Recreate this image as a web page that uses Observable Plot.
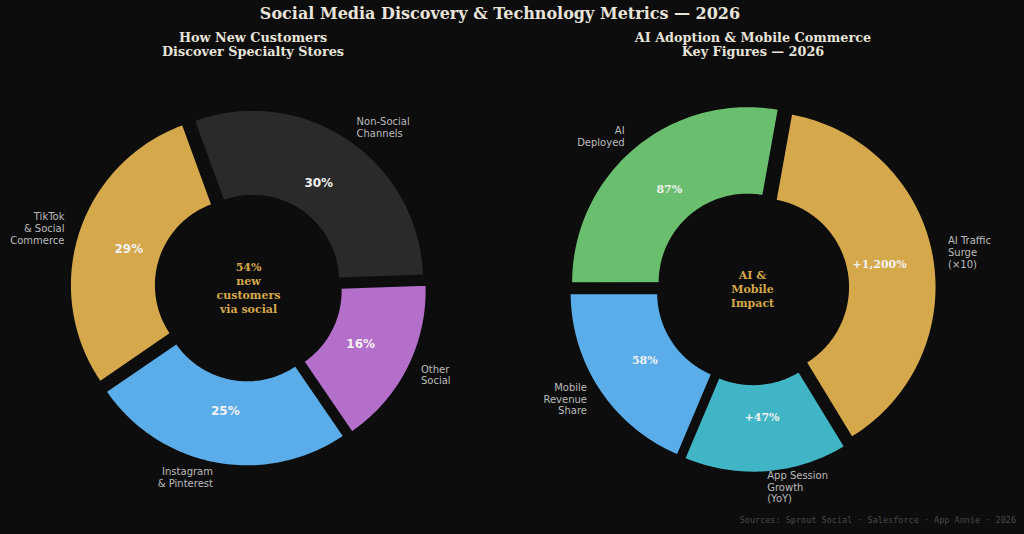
<!DOCTYPE html>
<html>
<head>
<meta charset="utf-8">
<script src="https://cdn.jsdelivr.net/npm/d3@7"></script>
<script src="https://cdn.jsdelivr.net/npm/@observablehq/plot@0.6"></script>
<style>
  html, body { margin: 0; padding: 0; background: #0d0d0d; }
  #wrap { position: relative; width: 1024px; height: 534px; overflow: hidden; background: #0d0d0d; }
  .panel { position: absolute; top: 0; width: 512px; height: 534px; }
  .title { position: absolute; top: 4px; left: 0; width: 1000px; text-align: center;
    font: bold 16px "DejaVu Serif", serif; color: #e8e4da; }
  .sub { position: absolute; top: 31px; width: 300px; text-align: center;
    font: bold 12.8px/14px "DejaVu Serif", serif; color: #e8e4da; }
  .src { position: absolute; right: 8px; top: 515px; font: 8.5px "DejaVu Sans Mono", monospace; color: #4a4a4a; }
</style>
</head>
<body>
<div id="wrap">
  <div class="panel" id="left" style="left:0"></div>
  <div class="panel" id="right" style="left:512px"></div>
  <div class="title">Social Media Discovery &amp; Technology Metrics — 2026</div>
  <div class="sub" style="left:103px">How New Customers<br>Discover Specialty Stores</div>
  <div class="sub" style="left:603px">AI Adoption &amp; Mobile Commerce<br>Key Figures — 2026</div>
  <div class="src">Sources: Sprout Social · Salesforce · App Annie · 2026</div>
</div>
<script>
// ---- data ----
const leftLabels = ["Non-Social\nChannels", "Other\nSocial", "Instagram\n& Pinterest", "TikTok\n& Social\nCommerce"];
const leftValues = [30, 16, 25, 29];
const leftPct = ["30%", "16%", "25%", "29%"];
const leftColors = ["#2a2a2a", "#b36fc9", "#5aade8", "#d4a84b"];
const leftCenter = "54%\nnew\ncustomers\nvia social";

const rightLabels = ["AI\nDeployed", "AI Traffic\nSurge\n(×10)", "App Session\nGrowth\n(YoY)", "Mobile\nRevenue\nShare"];
const rightValues = [87, 120, 47, 58];
const rightPct = ["87%", "+1,200%", "+47%", "58%"];
const rightColors = ["#6abf6f", "#d4a84b", "#3fb5c5", "#5aade8"];
const rightCenter = "AI &\nMobile\nImpact";

// ---- drawing ----
const INNER = 0.5;
const EXPLODE = 0.045;
const W = 512, H = 534;

function donut({labels, values, pct, colors, center, startDeg, cx, cy, R, pctFont}) {
  const pie = d3.pie().sort(null).startAngle(startDeg * Math.PI / 180).endAngle(startDeg * Math.PI / 180 + 2 * Math.PI);
  const arcs = pie(values);
  const rows = [];
  const texts = [];
  arcs.forEach((a, i) => {
    const mid = (a.startAngle + a.endAngle) / 2;
    const ox = EXPLODE * Math.sin(mid), oy = EXPLODE * Math.cos(mid);
    const n = Math.max(8, Math.ceil((a.endAngle - a.startAngle) / 0.02));
    for (let k = 0; k <= n; k++) {
      const t = a.startAngle + (a.endAngle - a.startAngle) * k / n;
      rows.push({key: labels[i], x: ox + Math.sin(t), y: oy + Math.cos(t)});
    }
    for (let k = n; k >= 0; k--) {
      const t = a.startAngle + (a.endAngle - a.startAngle) * k / n;
      rows.push({key: labels[i], x: ox + INNER * Math.sin(t), y: oy + INNER * Math.cos(t)});
    }
    const lx = ox + 1.085 * Math.sin(mid), ly = oy + 1.085 * Math.cos(mid);
    texts.push({label: labels[i], pct: pct[i],
      lx, ly, anchor: lx >= 0 ? "start" : "end",
      px: ox + 0.69 * Math.sin(mid), py: oy + 0.69 * Math.cos(mid)});
  });
  return Plot.plot({
    width: W, height: H,
    margin: 0,
    style: {background: "transparent", overflow: "visible"},
    x: {domain: [-cx / R, (W - cx) / R], axis: null},
    y: {domain: [-(H - cy) / R, cy / R], axis: null},
    color: {domain: labels, range: colors},
    marks: [
      Plot.line(rows, {x: "x", y: "y", z: "key", fill: "key", stroke: "#0d0d0d", strokeWidth: 1.5, curve: "linear-closed"}),
      Plot.text(texts.filter(d => d.anchor === "start"), {x: "lx", y: "ly", text: "label", textAnchor: "start", fill: "#bbbbbb", fontSize: 10, lineHeight: 1.18, fontFamily: "DejaVu Sans"}),
      Plot.text(texts.filter(d => d.anchor === "end"), {x: "lx", y: "ly", text: "label", textAnchor: "end", fill: "#bbbbbb", fontSize: 10, lineHeight: 1.18, fontFamily: "DejaVu Sans"}),
      Plot.text(texts, {x: "px", y: "py", text: "pct", fill: "#f2f2f2", fontSize: pctFont.size, fontWeight: "bold", fontFamily: pctFont.family}),
      Plot.text([center], {x: () => 0, y: () => 0, text: d => d, fill: "#d4a84b", fontSize: 11, fontWeight: "bold", lineHeight: 1.25, fontFamily: "DejaVu Serif"})
    ]
  });
}

document.getElementById("left").appendChild(donut({
  labels: leftLabels, values: leftValues, pct: leftPct, colors: leftColors, center: leftCenter,
  startDeg: -20, cx: 248, cy: 287, R: 171, pctFont: {size: 12, family: "DejaVu Sans"}
}));
document.getElementById("right").appendChild(donut({
  labels: rightLabels, values: rightValues, pct: rightPct, colors: rightColors, center: rightCenter,
  startDeg: 269.8, cx: 240, cy: 288, R: 176, pctFont: {size: 11, family: "DejaVu Serif"}
}));
</script>
</body>
</html>
